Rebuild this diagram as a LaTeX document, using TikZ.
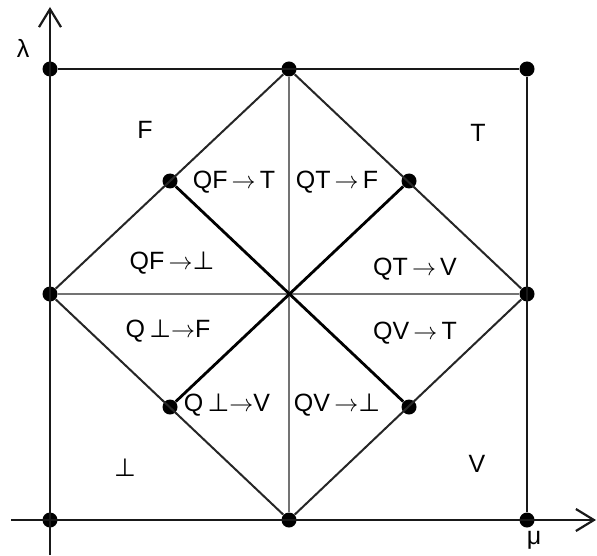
\documentclass[tikz,border=0pt]{standalone}
\usepackage{fontspec}
\setmainfont{Liberation Sans}
\newfontfamily\symfont{DejaVu Sans}
\newcommand{\falsum}{{\symfont ⊥}}
\usetikzlibrary{arrows.meta}

\begin{document}
\begin{tikzpicture}[
  x=0.5pt, y=-0.5pt,
  font=\fontsize{12.5}{14}\selectfont,
  dot/.style={circle, fill=black, inner sep=0pt, minimum size=7.5pt},
  frame/.style={line width=1.3pt, black!90},
  axis/.style={frame, -{Straight Barb[length=9pt, width=11pt, line width=1.1pt]}},
  diam/.style={line width=1pt, black!85},
  mid/.style={line width=1.1pt, black!55},
  cross/.style={line width=1.4pt, black},
  lbl/.style={inner sep=0pt}]

\useasboundingbox (0,0) rectangle (597,555);

% ---------- points of the square ----------
\node[dot] (bl) at (50,520) {};
\node[dot] (bm) at (289,520) {};
\node[dot] (br) at (527,520) {};
\node[dot] (ml) at (50,294) {};
\node[dot] (mr) at (527,294) {};
\node[dot] (tl) at (50,69) {};
\node[dot] (tm) at (289,69) {};
\node[dot] (tr) at (527,69) {};
\node[dot] (qf) at (170,181) {};
\node[dot] (qt) at (409,181) {};
\node[dot] (qb) at (170,407) {};
\node[dot] (qv) at (409,407) {};

\coordinate (xs) at (11,520);
\coordinate (xe) at (596,520);
\coordinate (ys) at (50,555);
\coordinate (ye) at (50,7);

% ---------- lines ----------
\draw[mid] (tm) -- (bm);
\draw[mid] (ml) -- (mr);
\draw[diam] (tm) -- (mr) -- (bm) -- (ml) -- (tm);
\draw[cross] (qf) -- (qv);
\draw[cross] (qt) -- (qb);
\draw[frame] (tl) -- (tr) -- (br);
\draw[axis] (xs) -- (xe);
\draw[axis] (ys) -- (ye);

% ---------- labels ----------
\node[lbl] (lam) at (23,48) {λ};
\node[lbl] (mu) at (534,540) {μ};
\node[lbl] (f) at (145,130) {F};
\node[lbl] (t) at (478,133) {T};
\node[lbl] (b) at (125,468) {\falsum};
\node[lbl] (v) at (477,464) {V};

\node[lbl] (ft) at (234,182) {QF\,$\to$\,T};
\node[lbl] (tf) at (337,182) {QT\,$\to$\,F};
\node[lbl] (fb) at (172,263) {QF\,$\to$\falsum};
\node[lbl] (tv) at (415,269) {QT\,$\to$\,V};
\node[lbl] (bf) at (168,331) {Q\,\falsum$\to$F};
\node[lbl] (vt) at (415,333) {QV\,$\to$\,T};
\node[lbl] (bv) at (227,405) {Q\,\falsum$\to$V};
\node[lbl] (vb) at (337,405) {QV\,$\to$\falsum};
\end{tikzpicture}
\end{document}
